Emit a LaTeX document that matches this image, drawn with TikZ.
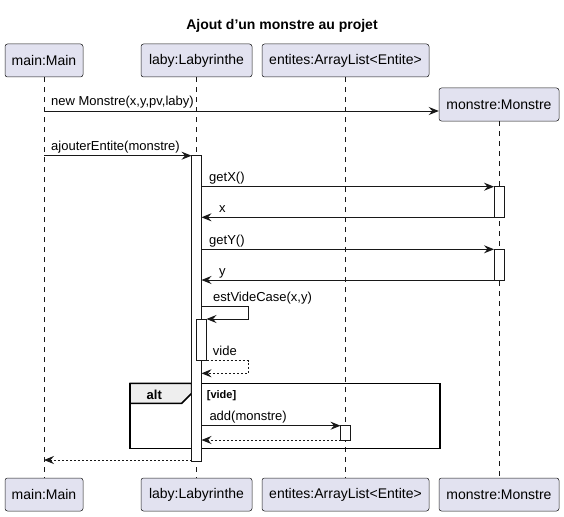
\documentclass[tikz,border=0pt]{standalone}
\usepackage{fontspec}
\setmainfont{Liberation Sans}[Ligatures=NoCommon]
\usetikzlibrary{arrows.meta}
\definecolor{partfill}{HTML}{E2E2F0}
\definecolor{ink}{HTML}{181818}
\definecolor{tabfill}{HTML}{EEEEEE}
\tikzset{
  part/.style={draw=ink, line width=0.5pt, fill=partfill, rounded corners=2.5pt, inner sep=0pt, font=\fontsize{14}{16}\selectfont},
  lifeline/.style={draw=ink, line width=0.5pt, dash pattern=on 5pt off 5pt},
  actbar/.style={draw=ink, line width=0.8pt, fill=white},
  msg/.style={draw=ink, line width=0.8pt, -{Stealth[length=10pt,width=8pt,inset=3.5pt]}},
  ret/.style={msg, dash pattern=on 2pt off 2pt},
  lbl/.style={anchor=base west, inner sep=0pt, font=\fontsize{13}{15}\selectfont},
  frametab/.style={draw=black, line width=1.5pt, fill=tabfill},
}
\begin{document}
\begin{tikzpicture}[x=1pt,y=-1pt]
\useasboundingbox (0,0) rectangle (564,516);
% title
\node[anchor=base, inner sep=0pt, font=\fontsize{14}{16}\selectfont\bfseries] (title) at (282,29.5) {Ajout d\char"0027un monstre au projet};
% participants top
\node[part, minimum width=78pt, minimum height=33pt] (mainT) at (44,60.5) {main:Main};
\node[part, minimum width=111pt, minimum height=33pt] (labyT) at (196.5,60.5) {laby:Labyrinthe};
\node[part, minimum width=167pt, minimum height=33pt] (entT) at (345.5,60.5) {entites:ArrayList<Entite>};
\node[part, minimum width=120pt, minimum height=33pt] (monT) at (499,104.5) {monstre:Monstre};
% participants bottom
\node[part, minimum width=78pt, minimum height=33pt] (mainB) at (44,494.5) {main:Main};
\node[part, minimum width=111pt, minimum height=33pt] (labyB) at (196.5,494.5) {laby:Labyrinthe};
\node[part, minimum width=167pt, minimum height=33pt] (entB) at (345.5,494.5) {entites:ArrayList<Entite>};
\node[part, minimum width=120pt, minimum height=33pt] (monB) at (499,494.5) {monstre:Monstre};
% lifelines
\draw[lifeline] (mainT) -- (mainB);
\draw[lifeline] (labyT) -- (labyB);
\draw[lifeline] (entT) -- (entB);
\draw[lifeline] (monT) -- (monB);
% alt frame
\draw[line width=1.5pt, draw=black] (130,383.3) rectangle (440,448.3);
\path[frametab] (130,383.3) -- (191.7,383.3) -- (191.7,393.3) -- (181.7,403.3) -- (130,403.3) -- cycle;
\node[anchor=base west, inner sep=0pt, font=\fontsize{13}{15}\selectfont\bfseries] (altlbl) at (146.5,399) {alt};
\node[anchor=base west, inner sep=0pt, font=\fontsize{11}{13}\selectfont\bfseries] (guard) at (206.7,398.5) {[vide]};
% activation bars
\node[actbar, minimum width=10pt, minimum height=305.3pt, inner sep=0pt] (labyA) at (196.5,308.35) {};
\node[actbar, minimum width=10pt, minimum height=30.6pt, inner sep=0pt] (monA1) at (499,202) {};
\node[actbar, minimum width=10pt, minimum height=30.7pt, inner sep=0pt] (monA2) at (499,264.65) {};
\node[actbar, minimum width=10pt, minimum height=41.7pt, inner sep=0pt] (labyA2) at (201.5,339.85) {};
\node[actbar, minimum width=10pt, minimum height=14.3pt, inner sep=0pt] (entA) at (345.5,432.85) {};
% message end points
\coordinate (m1s) at (44,111);
\coordinate (m2s) at (44,155.7);
\coordinate (m2e) at (191.5,155.7);
\coordinate (gxs) at (201.5,186.7);
\coordinate (gxe) at (494,186.7);
\coordinate (rxs) at (494,217.3);
\coordinate (rxe) at (201.5,217.3);
\coordinate (gys) at (201.5,249.3);
\coordinate (gye) at (494,249.3);
\coordinate (rys) at (494,280);
\coordinate (rye) at (201.5,280);
\coordinate (evs) at (201.5,306.7);
\coordinate (evc1) at (248.3,306.7);
\coordinate (evc2) at (248.3,319);
\coordinate (eve) at (206.5,319);
\coordinate (rvs) at (206.5,360.7);
\coordinate (rvc1) at (248.3,360.7);
\coordinate (rvc2) at (248.3,373.3);
\coordinate (rve) at (201.5,373.3);
\coordinate (ads) at (201.5,425.7);
\coordinate (ade) at (340.5,425.7);
\coordinate (ras) at (340.5,440);
\coordinate (rae) at (201.5,440);
\coordinate (fis) at (191.5,460);
\coordinate (fie) at (44,460);
% messages
\draw[msg] (m1s) -- (monT.west |- m1s);
\node[lbl] (l1) at (51,106) {new Monstre(x,y,pv,laby)};
\draw[msg] (m2s) -- (m2e);
\node[lbl] (l2) at (51,150.5) {ajouterEntite(monstre)};
\draw[msg] (gxs) -- (gxe);
\node[lbl] (l3) at (209,181.5) {getX()};
\draw[msg] (rxs) -- (rxe);
\node[lbl] (l4) at (219,212) {x};
\draw[msg] (gys) -- (gye);
\node[lbl] (l5) at (209,244) {getY()};
\draw[msg] (rys) -- (rye);
\node[lbl] (l6) at (219,275) {y};
\draw[msg] (evs) -- (evc1) -- (evc2) -- (eve);
\node[lbl] (l7) at (213,301.5) {estVideCase(x,y)};
\draw[ret] (rvs) -- (rvc1) -- (rvc2) -- (rve);
\node[lbl] (l8) at (212.7,355.5) {vide};
\draw[msg] (ads) -- (ade);
\node[lbl] (l9) at (209.3,420.5) {add(monstre)};
\draw[ret] (ras) -- (rae);
\draw[ret] (fis) -- (fie);
\end{tikzpicture}
\end{document}
